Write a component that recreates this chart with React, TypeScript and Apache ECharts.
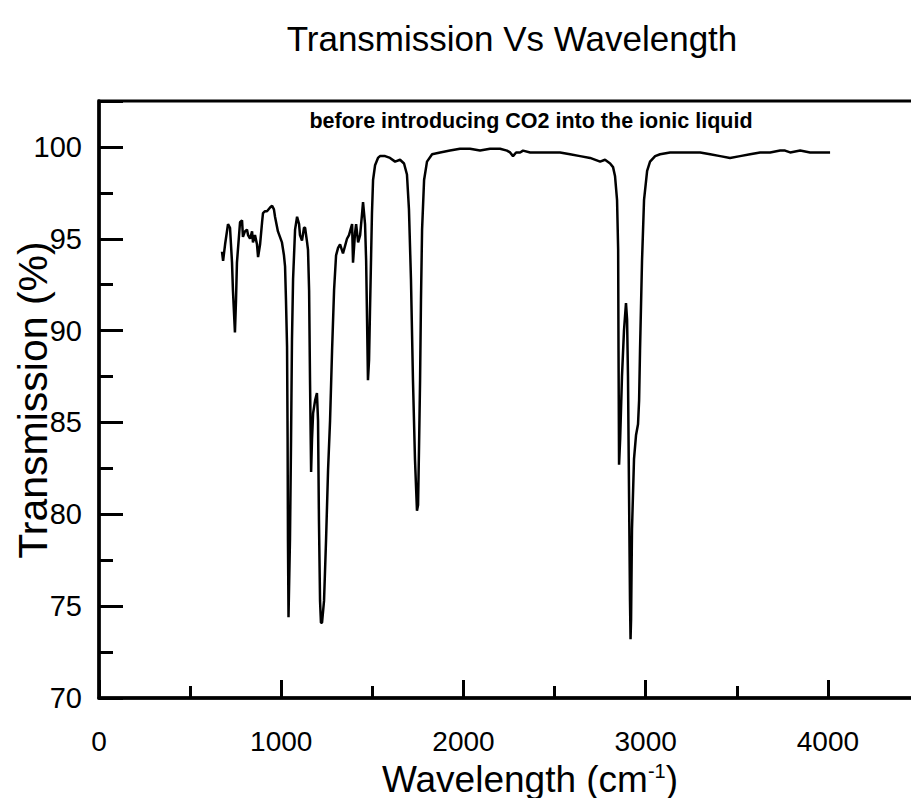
import React, { useEffect, useRef } from "react";
import * as echarts from "echarts";

const wavenumber = [
  675, 681, 692, 708, 719, 730, 735, 746, 752, 757, 774, 785, 790, 801, 812, 818, 829, 840, 845, 856,
  867, 873, 884, 895, 900, 911, 922, 939, 950, 960, 966, 982, 1004, 1015, 1021, 1026, 1032, 1035, 1037, 1040,
  1048, 1054, 1059, 1065, 1076, 1087, 1098, 1103, 1114, 1125, 1131, 1142, 1147, 1153, 1158, 1164, 1169, 1175, 1186, 1196,
  1202, 1207, 1213, 1218, 1224, 1235, 1246, 1257, 1268, 1279, 1290, 1301, 1312, 1323, 1339, 1350, 1361, 1372, 1383, 1389,
  1394, 1405, 1411, 1422, 1433, 1443, 1449, 1460, 1466, 1471, 1476, 1482, 1487, 1498, 1504, 1515, 1531, 1542, 1570, 1597,
  1625, 1652, 1674, 1690, 1701, 1712, 1723, 1734, 1745, 1751, 1756, 1762, 1767, 1773, 1784, 1800, 1828, 1872, 1926, 1981,
  2036, 2091, 2146, 2201, 2239, 2256, 2272, 2289, 2311, 2327, 2366, 2420, 2459, 2530, 2585, 2640, 2695, 2750, 2777, 2805,
  2821, 2832, 2843, 2849, 2851, 2854, 2860, 2870, 2881, 2892, 2898, 2903, 2909, 2914, 2917, 2920, 2925, 2936, 2947, 2958,
  2964, 2969, 2980, 2991, 3008, 3024, 3052, 3079, 3134, 3189, 3244, 3299, 3354, 3409, 3463, 3518, 3573, 3628, 3683, 3738,
  3765, 3793, 3848, 3902, 3957, 4012,
];

const transmission = [
  94.3, 93.8, 94.7, 95.8, 95.6, 93.7, 92.2, 89.9, 91.7, 93.7, 95.9, 96.0, 95.1, 95.4, 95.5, 95.2, 95.0, 95.4, 94.8, 95.2,
  94.7, 94.0, 94.7, 95.9, 96.4, 96.5, 96.5, 96.7, 96.8, 96.6, 96.2, 95.4, 94.8, 94.1, 93.5, 91.7, 89.1, 84.1, 78.6, 74.4,
  78.6, 84.1, 89.5, 92.8, 95.5, 96.2, 95.8, 95.2, 94.9, 95.6, 95.6, 94.8, 94.4, 92.2, 87.3, 82.3, 84.1, 85.5, 86.2, 86.6,
  85.1, 79.7, 75.3, 74.1, 74.1, 75.3, 78.6, 82.4, 85.1, 88.9, 92.2, 94.1, 94.5, 94.7, 94.2, 94.6, 95.0, 95.2, 95.6, 95.8,
  93.7, 95.3, 95.8, 94.8, 95.2, 96.3, 97.0, 95.8, 93.8, 90.6, 87.3, 88.4, 91.0, 96.4, 98.2, 99.0, 99.4, 99.5, 99.5, 99.4,
  99.2, 99.3, 99.1, 98.5, 96.6, 92.8, 87.3, 83.0, 80.2, 80.5, 83.5, 87.3, 91.7, 95.5, 98.2, 99.2, 99.6, 99.7, 99.8, 99.9,
  99.9, 99.8, 99.9, 99.9, 99.8, 99.7, 99.5, 99.7, 99.7, 99.8, 99.7, 99.7, 99.7, 99.7, 99.6, 99.5, 99.4, 99.2, 99.3, 99.1,
  98.9, 98.4, 97.1, 94.4, 88.9, 82.7, 84.1, 87.5, 90.0, 91.5, 90.6, 87.5, 80.8, 75.3, 73.2, 74.3, 79.2, 83.0, 84.3, 84.9,
  86.2, 88.9, 93.8, 97.1, 98.7, 99.2, 99.5, 99.6, 99.7, 99.7, 99.7, 99.7, 99.6, 99.5, 99.4, 99.5, 99.6, 99.7, 99.7, 99.8,
  99.8, 99.7, 99.8, 99.7, 99.7, 99.7,
];

const xTickLabels = [0, 1000, 2000, 3000, 4000];
const yTickLabels = [70, 75, 80, 85, 90, 95, 100];

const chartTitle = "Transmission Vs Wavelength";
const annotation = "before introducing CO2 into the ionic liquid";
const yName = "Transmission (%)";

export default function App() {
  const ref = useRef<HTMLDivElement>(null);

  useEffect(() => {
    if (!ref.current) return;
    const chart = echarts.init(ref.current, null, { renderer: "svg" });
    const font = '"Liberation Sans", Arial, Helvetica, sans-serif';
    const data = wavenumber.map((w, i) => [w, transmission[i]]);

    chart.setOption({
      animation: false,
      backgroundColor: "#ffffff",
      textStyle: { fontFamily: font },
      grid: {
        left: 99,
        top: 101,
        width: 820,
        height: 597,
        outerBoundsMode: "none",
        containLabel: false,
        show: true,
        borderColor: "#000",
        borderWidth: 3,
        backgroundColor: "transparent",
      },
      xAxis: [
        {
          type: "value",
          min: 0,
          max: 4500,
          interval: 1000,
          axisLine: { show: true, lineStyle: { color: "#000", width: 3.5 } },
          axisTick: { show: true, inside: true, length: 18, lineStyle: { color: "#000", width: 3 } },
          axisLabel: {
            margin: 29,
            fontSize: 28,
            color: "#000",
            fontFamily: font,
            formatter: (v: number) => (xTickLabels.includes(v) ? String(v) : ""),
          },
          splitLine: { show: false },
        },
        {
          type: "value",
          min: 0,
          max: 4500,
          interval: 500,
          position: "bottom",
          axisLine: { show: false },
          axisTick: { show: true, inside: true, length: 12, lineStyle: { color: "#000", width: 3 } },
          axisLabel: { show: false },
          splitLine: { show: false },
        },
      ],
      yAxis: [
        {
          type: "value",
          min: 70,
          max: 102.5,
          interval: 5,
          axisLine: { show: true, lineStyle: { color: "#000", width: 3.5 } },
          axisTick: { show: true, inside: true, length: 24, lineStyle: { color: "#000", width: 3 } },
          axisLabel: {
            margin: 17,
            fontSize: 29,
            color: "#000",
            fontFamily: font,
            formatter: (v: number) => (yTickLabels.includes(v) ? String(v) : ""),
          },
          splitLine: { show: false },
        },
        {
          type: "value",
          min: 70,
          max: 102.5,
          interval: 2.5,
          position: "left",
          axisLine: { show: false },
          axisTick: { show: true, inside: true, length: 14, lineStyle: { color: "#000", width: 3 } },
          axisLabel: { show: false },
          splitLine: { show: false },
        },
      ],
      series: [
        {
          type: "line",
          xAxisIndex: 0,
          yAxisIndex: 0,
          data,
          showSymbol: false,
          symbol: "none",
          lineStyle: { color: "#000", width: 2.5 },
        },
      ],
      graphic: [
        {
          type: "text",
          x: 512,
          y: 38,
          style: {
            text: chartTitle,
            fontSize: 35,
            fontFamily: font,
            fill: "#000",
            align: "center",
            verticalAlign: "middle",
          },
        },
        {
          type: "text",
          x: 531,
          y: 121,
          style: {
            text: annotation,
            fontSize: 21.5,
            fontWeight: "bold",
            fontFamily: font,
            fill: "#000",
            align: "center",
            verticalAlign: "middle",
          },
        },
        {
          type: "text",
          x: 33,
          y: 400,
          rotation: Math.PI / 2,
          style: {
            text: yName,
            fontSize: 41,
            fontFamily: font,
            fill: "#000",
            align: "center",
            verticalAlign: "middle",
          },
        },
        {
          type: "text",
          x: 530,
          y: 779,
          style: {
            text: "Wavelength (cm{sup|-1})",
            fontSize: 37,
            fontFamily: font,
            fill: "#000",
            align: "center",
            verticalAlign: "middle",
            lineHeight: 36,
            rich: {
              sup: { fontSize: 20, fontFamily: font, fill: "#000", verticalAlign: "top", lineHeight: 20 },
            },
          },
        },
      ],
    });

    return () => {
      chart.dispose();
    };
  }, []);

  return (
    <div
      ref={ref}
      style={{ position: "fixed", left: 0, top: 0, width: 911, height: 798, background: "#fff" }}
    />
  );
}
